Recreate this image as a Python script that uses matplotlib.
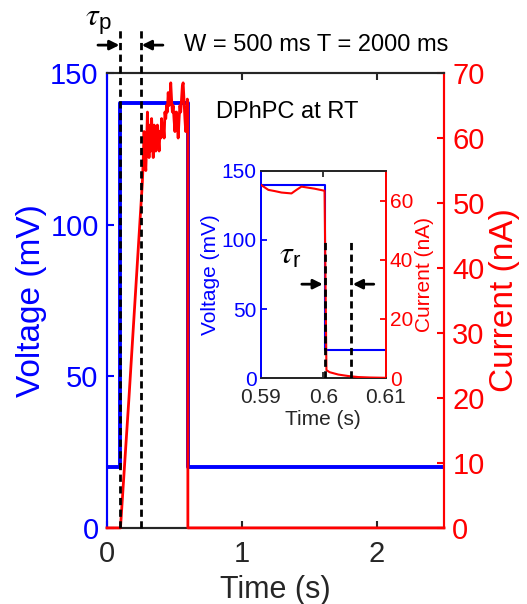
import matplotlib
matplotlib.use('Agg')
import matplotlib.pyplot as plt

plt.rcParams['font.family'] = ['Liberation Sans', 'DejaVu Sans']
plt.rcParams['mathtext.fontset'] = 'custom'
plt.rcParams['mathtext.rm'] = 'Liberation Sans'
plt.rcParams['mathtext.it'] = 'STIXGeneral:italic'
plt.rcParams['mathtext.bf'] = 'Liberation Sans:bold'

BLUE = '#0000ff'
RED = '#ff0000'
DARK = '#262626'

# ---------------- data ----------------
volt_t = [0, 0.1, 0.1, 0.6, 0.6, 2.5]
volt_v = [20, 20, 140, 140, 20, 20]

cur_t = [0, 0.1, 0.163, 0.262, 0.268, 0.275, 0.281, 0.288, 0.294, 0.300,
         0.306, 0.312, 0.319, 0.325, 0.331, 0.337, 0.343, 0.350, 0.356, 0.362,
         0.368, 0.374, 0.380, 0.387, 0.393, 0.400, 0.405, 0.411, 0.417, 0.424,
         0.430, 0.436, 0.442, 0.448, 0.454, 0.460, 0.467, 0.473, 0.479, 0.485,
         0.491, 0.497, 0.504, 0.510, 0.516, 0.522, 0.528, 0.535, 0.541, 0.547,
         0.553, 0.559, 0.565, 0.571, 0.578, 0.584, 0.590, 0.596, 0.600, 0.600,
         2.5]
cur_i = [0, 0, 20, 53, 56, 61, 57, 55, 59, 64,
         60, 57, 62, 58, 63, 60, 57, 62, 60, 58,
         59, 62, 60, 58, 61, 60, 63, 61, 62, 60,
         64, 63, 65, 64, 67, 65, 66, 68.5, 66, 64,
         65, 63, 61, 64, 64, 62, 60, 63, 65, 64,
         66, 68, 68.5, 66, 63, 61, 62, 66, 65, 0,
         0]

main_xticks = [0, 1, 2]
main_vticks = [0, 50, 100, 150]
main_iticks = [0, 10, 20, 30, 40, 50, 60, 70]
tau_p_lines = [0.1, 0.25]

inset_volt_t = [0.59, 0.6003, 0.6003, 0.61]
inset_volt_v = [140, 140, 20, 20]
inset_cur_t = [0.5900, 0.5912, 0.5922, 0.5933, 0.5949, 0.5957, 0.5965, 0.5986,
               0.6002, 0.6005, 0.6010, 0.6024, 0.6040, 0.6056, 0.6075, 0.6100]
inset_cur_i = [65.3, 63.6, 63.2, 62.7, 62.4, 63.6, 64.7, 64.0,
               63.3, 2.7, 2.0, 1.2, 0.7, 0.35, 0.2, 0.1]
inset_xticks = [0.59, 0.6, 0.61]
inset_xticklabels = ['0.59', '0.6', '0.61']
inset_vticks = [0, 50, 100, 150]
inset_iticks = [0, 20, 40, 60]
tau_r_lines = [0.6003, 0.6045]

# ---------------- figure ----------------
fig = plt.figure(figsize=(5.27, 6.04), dpi=100)

ax = fig.add_axes([0.203, 0.126, 0.6395, 0.753])
ax2 = ax.twinx()

ax.plot(volt_t, volt_v, color=BLUE, lw=2.8, zorder=2)
ax2.plot(cur_t, cur_i, color=RED, lw=2.0, zorder=3, clip_on=False)

ax.set_xlim(0, 2.5)
ax.set_ylim(0, 150)
ax2.set_ylim(0, 70)
ax.set_xticks(main_xticks)
ax.set_yticks(main_vticks)
ax2.set_yticks(main_iticks)

for a in (ax, ax2):
    a.spines['left'].set_color(BLUE)
    a.spines['right'].set_color(RED)
    a.spines['top'].set_color(DARK)
    a.spines['bottom'].set_color(DARK)
    for s in a.spines.values():
        s.set_linewidth(1.5)

ax.tick_params(axis='x', direction='in', top=True, length=5, width=1.5,
               colors=DARK, labelsize=21, pad=9)
ax.tick_params(axis='y', direction='in', length=5, width=1.5,
               colors=BLUE, labelsize=21, pad=6)
ax2.tick_params(axis='y', direction='in', length=5, width=1.5,
                colors=RED, labelsize=21, pad=6)

ax.set_xlabel('Time (s)', fontsize=22, color=DARK, labelpad=5)
ax.set_ylabel('Voltage (mV)', fontsize=24, color=BLUE, labelpad=2)
ax2.set_ylabel('Current (nA)', fontsize=24, color=RED, labelpad=3)

# tau_p dashed markers
for tl in tau_p_lines:
    ax2.plot([tl, tl], [0, 165], transform=ax.transData, color='k', lw=2,
             dashes=(2.6, 1.6), clip_on=False, zorder=4)

arrow_kw = dict(arrowstyle='-|>', color='k', lw=2, mutation_scale=14,
                shrinkA=0, shrinkB=0)
ax2.annotate('', xy=(0.092, 1.0615), xytext=(-0.067, 1.0615),
             xycoords=('data', 'axes fraction'), textcoords=('data', 'axes fraction'),
             arrowprops=arrow_kw, annotation_clip=False)
ax2.annotate('', xy=(0.258, 1.0615), xytext=(0.415, 1.0615),
             xycoords=('data', 'axes fraction'), textcoords=('data', 'axes fraction'),
             arrowprops=arrow_kw, annotation_clip=False)
ax2.text(-0.165, 1.103, r'$\tau_{\mathrm{p}}$', fontsize=23, color='k',
         transform=ax.get_xaxis_transform(), va='baseline', ha='left')
ax2.text(0.57, 1.0615, 'W = 500 ms T = 2000 ms', fontsize=17, color='k',
         transform=ax.get_xaxis_transform(), va='center', ha='left')
ax2.text(0.81, 0.915, 'DPhPC at RT', fontsize=17, color='k',
         transform=ax.get_xaxis_transform(), va='center', ha='left')

# ---------------- inset ----------------
axi = fig.add_axes([0.495, 0.374, 0.237, 0.343])
axi2 = axi.twinx()
axi.set_facecolor('white')

axi.plot(inset_volt_t, inset_volt_v, color=BLUE, lw=1.5, zorder=2)
axi2.plot(inset_cur_t, inset_cur_i, color=RED, lw=1.5, zorder=3)

axi.set_xlim(0.59, 0.61)
axi.set_ylim(0, 150)
axi2.set_ylim(0, 70)
axi.set_xticks(inset_xticks)
axi.set_xticklabels(inset_xticklabels)
axi.set_yticks(inset_vticks)
axi2.set_yticks(inset_iticks)

for a in (axi, axi2):
    a.spines['left'].set_color(BLUE)
    a.spines['right'].set_color(RED)
    a.spines['top'].set_color(DARK)
    a.spines['bottom'].set_color(DARK)
    for s in a.spines.values():
        s.set_linewidth(1.3)

axi.tick_params(axis='x', direction='in', top=True, length=4, width=1.3,
                colors=DARK, labelsize=15, pad=7)
axi.tick_params(axis='y', direction='in', length=4, width=1.3,
                colors=BLUE, labelsize=15, pad=3)
axi2.tick_params(axis='y', direction='in', length=4, width=1.3,
                 colors=RED, labelsize=15, pad=3)

axi.set_xlabel('Time (s)', fontsize=15, color=DARK, labelpad=2)
axi.set_ylabel('Voltage (mV)', fontsize=15, color=BLUE, labelpad=1)
axi2.set_ylabel('Current (nA)', fontsize=15, color=RED, labelpad=1)

for tl in tau_r_lines:
    axi2.plot([tl, tl], [0, 100], transform=axi.transData, color='k', lw=2,
              dashes=(2.6, 1.6), zorder=4)
axi2.annotate('', xy=(0.59992, 68), xytext=(0.59656, 68),
              xycoords=axi.transData, textcoords=axi.transData,
              arrowprops=arrow_kw)
axi2.annotate('', xy=(0.60472, 68), xytext=(0.60808, 68),
              xycoords=axi.transData, textcoords=axi.transData,
              arrowprops=arrow_kw)
axi2.text(0.5929, 83, r'$\tau_{\mathrm{r}}$', fontsize=23, color='k',
          transform=axi.transData, va='baseline', ha='left')

axi2.set_ylim(0, 70)
axi.set_xlim(0.59, 0.61)

fig.savefig('out.png', dpi=100)
